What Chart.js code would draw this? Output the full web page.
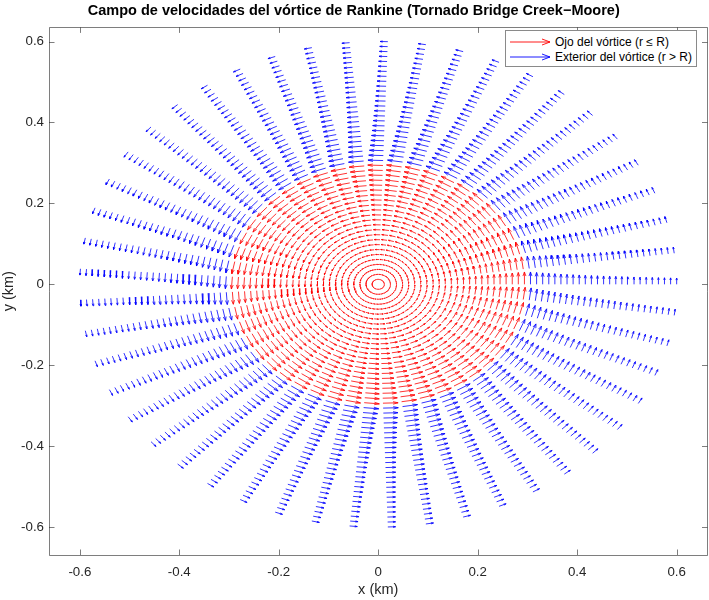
<!DOCTYPE html>
<html><head><meta charset="utf-8">
<script src="https://cdn.jsdelivr.net/npm/chart.js@4.4.1/dist/chart.umd.min.js"></script>
<style>
html,body{margin:0;padding:0;background:#fff;}
#wrap{position:relative;width:709px;height:600px;}
#legend{position:absolute;left:505px;top:30px;width:192px;height:37px;box-sizing:border-box;border:1px solid #8a8a8a;background:#fff;font:12px "Liberation Sans",Arial,sans-serif;color:#000;}
#legend .row{position:absolute;left:3px;height:15px;display:flex;align-items:center;white-space:nowrap;}
#legend .row svg{margin-right:4px;}
</style></head><body>
<div id="wrap"><canvas id="c"></canvas><div id="legend"></div></div>
<script>
// ---- data ----
const radiiKm = [0,0.0122,0.0245,0.0367,0.0490,0.0612,0.0735,0.0857,0.0980,0.1102,0.1224,0.1347,0.1469,0.1592,0.1714,0.1837,0.1959,0.2082,0.2204,0.2327,0.2449,0.2571,0.2694,0.2816,0.2939,0.3061,0.3184,0.3306,0.3429,0.3551,0.3673,0.3796,0.3918,0.4041,0.4163,0.4286,0.4408,0.4531,0.4653,0.4776,0.4898,0.5020,0.5143,0.5265,0.5388,0.5510,0.5633,0.5755,0.5878,0.6000];
const anglesDeg = [0,7.35,14.69,22.04,29.39,36.73,44.08,51.43,58.78,66.12,73.47,80.82,88.16,95.51,102.86,110.20,117.55,124.90,132.24,139.59,146.94,154.29,161.63,168.98,176.33,183.67,191.02,198.37,205.71,213.06,220.41,227.76,235.10,242.45,249.80,257.14,264.49,271.84,279.18,286.53,293.88,301.22,308.57,315.92,323.27,330.61,337.96,345.31,352.65];
// tangential speed per ring (m/s), counter-clockwise
const speedsMs = [0,4.08,8.16,12.24,16.33,20.41,24.49,28.57,32.65,36.73,40.82,44.90,48.98,53.06,57.14,61.22,65.31,69.39,73.47,77.55,81.63,85.71,89.80,93.88,97.96,98.00,94.23,90.74,87.50,84.48,81.67,79.03,76.56,74.24,72.06,70.00,68.06,66.22,64.47,62.82,61.25,59.76,58.33,56.98,55.68,54.44,53.26,52.13,51.04,50.00];
const coreRadiusKm = 0.3;
const xTicks = [-0.6,-0.4,-0.2,0,0.2,0.4,0.6];
const yTicks = [-0.6,-0.4,-0.2,0,0.2,0.4,0.6];
const seriesLabels = ['Ojo del v\u00f3rtice (r \u2264 R)','Exterior del v\u00f3rtice (r > R)'];
const seriesColors = ['#ff0000','#0000ff'];
const titleText = 'Campo de velocidades del v\u00f3rtice de Rankine (Tornado Bridge Creek\u2212Moore)';

// ---- build quiver polylines (MATLAB-like autoscale) ----
const FONT = '"Liberation Sans", Arial, Helvetica, sans-serif';
const pts = [];
anglesDeg.forEach(a => radiiKm.forEach(r => { const t = a*Math.PI/180; pts.push([r*Math.cos(t), r*Math.sin(t)]); }));
const xsA = pts.map(p=>p[0]), ysA = pts.map(p=>p[1]);
const nGrid = radiiKm.length;
const delx = (Math.max(...xsA)-Math.min(...xsA))/nGrid, dely = (Math.max(...ysA)-Math.min(...ysA))/nGrid;
const del = Math.sqrt(delx*delx+dely*dely);
const vmax = Math.max(...speedsMs);
const k = 0.9*del/vmax;
const alpha = 0.33, beta = 0.3;
const inner = [], outer = [];
anglesDeg.forEach(a => {
  const t = a*Math.PI/180, c = Math.cos(t), s = Math.sin(t);
  radiiKm.forEach((r, i) => {
    const sp = speedsMs[i];
    if (!sp) return;
    const x = r*c, y = r*s;
    const u = -sp*s*k, v = sp*c*k;
    const tx = x+u, ty = y+v;
    const b1x = tx - alpha*(u+beta*v), b1y = ty - alpha*(v-beta*u);
    const b2x = tx - alpha*(u-beta*v), b2y = ty - alpha*(v+beta*u);
    const arr = r <= coreRadiusKm ? inner : outer;
    arr.push({x:x,y:y},{x:tx,y:ty},{x:b1x,y:b1y},{x:b1x,y:null},{x:b2x,y:b2y},{x:tx,y:ty},{x:tx,y:null});
  });
});

const frame = {
  id:'frame',
  afterDraw(chart){
    const {ctx, chartArea:{left,right,top,bottom}, scales:{x,y}} = chart;
    ctx.save();
    ctx.strokeStyle = '#262626';
    ctx.lineWidth = 0.6;
    ctx.beginPath();
    ctx.rect(Math.round(left)+0.5, Math.round(top)+0.5, Math.round(right)-Math.round(left)-1, Math.round(bottom)-Math.round(top));
    const L = 5.5;
    xTicks.forEach(v => { const p = Math.round(x.getPixelForValue(v))+0.5;
      ctx.moveTo(p, bottom); ctx.lineTo(p, bottom-L); ctx.moveTo(p, top); ctx.lineTo(p, top+L); });
    yTicks.forEach(v => { const p = Math.round(y.getPixelForValue(v))+0.5;
      ctx.moveTo(left, p); ctx.lineTo(left+L, p); ctx.moveTo(right, p); ctx.lineTo(right-L, p); });
    ctx.stroke();
    ctx.restore();
  }
};

new Chart(document.getElementById('c'), {
  type:'line',
  data:{ datasets:[
    {label:seriesLabels[0], data:inner, borderColor:seriesColors[0], borderWidth:0.8, pointRadius:0, spanGaps:false, tension:0},
    {label:seriesLabels[1], data:outer, borderColor:seriesColors[1], borderWidth:0.8, pointRadius:0, spanGaps:false, tension:0}
  ]},
  options:{
    responsive:true, maintainAspectRatio:false, animation:false, events:[],
    layout:{padding:{left:0,right:1.5,top:0,bottom:0}},
    plugins:{
      legend:{display:false}, tooltip:{enabled:false},
      title:{display:true, text:titleText, color:'#000', font:{family:FONT, size:14.5, weight:'bold'}, padding:{top:2,bottom:8}}
    },
    scales:{
      x:{type:'linear', min:-0.662, max:0.662,
        grid:{display:false, drawTicks:false}, border:{display:false},
        afterBuildTicks:s=>{ s.ticks = xTicks.map(v=>({value:v})); },
        afterFit:s=>{ s.height = 45; },
        ticks:{color:'#262626', padding:9, font:{family:FONT, size:13.3}, maxRotation:0, callback:v=> v===0?'0':v.toFixed(1)},
        title:{display:true, text:'x (km)', color:'#262626', font:{family:FONT, size:14.5}, padding:{top:0,bottom:1.3}}
      },
      y:{type:'linear', min:-0.669, max:0.635,
        grid:{display:false, drawTicks:false}, border:{display:false},
        afterBuildTicks:s=>{ s.ticks = yTicks.map(v=>({value:v})); },
        afterFit:s=>{ s.width = 49; },
        ticks:{color:'#262626', padding:5, font:{family:FONT, size:13.3}, callback:v=> v===0?'0':v.toFixed(1)},
        title:{display:true, text:'y (km)', color:'#262626', font:{family:FONT, size:14.5}, padding:{top:0,bottom:0}}
      }
    }
  },
  plugins:[frame]
});

// HTML legend built from the datasets
const lg = document.getElementById('legend');
seriesLabels.forEach((lab, i) => {
  const row = document.createElement('div');
  row.className = 'row';
  row.style.top = (3 + i*15) + 'px';
  const c = seriesColors[i];
  row.innerHTML = '<svg width="42" height="10" viewBox="0 0 42 10"><path d="M1 5 L41 5 M33 2 L41 5 L33 8" stroke="'+c+'" stroke-width="0.9" fill="none"/></svg>';
  const span = document.createElement('span');
  span.textContent = lab;
  row.appendChild(span);
  lg.appendChild(row);
});
</script>
</body></html>
